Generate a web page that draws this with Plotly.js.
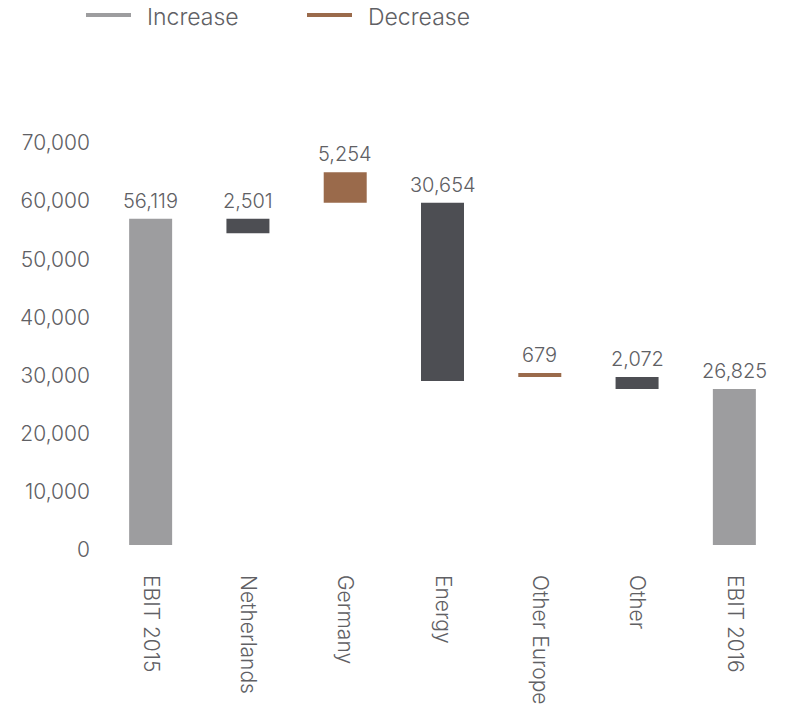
<!DOCTYPE html>
<html>
<head>
<meta charset="utf-8">
<script src="https://cdn.plot.ly/plotly-3.0.1.min.js"></script>
<style>html,body{margin:0;padding:0;background:#fff;}#chart{width:787px;height:707px;}</style>
</head>
<body>
<div id="chart"></div>
<script>
const categories = ['EBIT 2015', 'Netherlands', 'Germany', 'Energy', 'Other Europe', 'Other', 'EBIT 2016'];
const measures = ['absolute', 'relative', 'relative', 'relative', 'relative', 'relative', 'total'];
const values = [56119, -2501, 5254, -30654, 679, -2072, 26825];
const legendLabels = ['Increase', 'Decrease'];
const tickValues = [0, 10000, 20000, 30000, 40000, 50000, 60000, 70000];

const FONT = 'Inter, "Noto Sans", sans-serif';
const WEIGHT = 300;
const TXT = '#606064';
const COL_TOTAL = '#9d9d9f';
const COL_INC = '#9a6a4b';
const COL_DEC = '#4d4e53';

// plot area geometry (pixels)
const W = 787, H = 707;
const mL = 102, mR = 4, mT = 138, mB = 162;
const pw = W - mL - mR, ph = H - mT - mB;
const px2x = p => (p - mL) / pw;
const py2y = p => (H - mB - p) / ph;

// bars: each step is drawn from the running total after the step, spanning |change|
const bases = [], heights = [], colors = [];
const annotations = [];
let run = 0;
for (let i = 0; i < categories.length; i++) {
  let base, h, col;
  if (measures[i] === 'absolute') { run = values[i]; base = 0; h = run; col = COL_TOTAL; }
  else if (measures[i] === 'total') { base = 0; h = run; col = COL_TOTAL; }
  else {
    run += values[i];
    base = run; h = Math.abs(values[i]);
    col = values[i] < 0 ? COL_DEC : COL_INC;
  }
  bases.push(base); heights.push(h); colors.push(col);
  annotations.push({
    x: categories[i], y: base + h, xref: 'x', yref: 'y',
    text: Math.abs(values[i]).toLocaleString('en-US'),
    showarrow: false, yanchor: 'middle', yshift: 18,
    font: {family: FONT, size: 20, color: TXT, weight: WEIGHT}
  });
}

// legend (drawn manually to match line length)
const legendItems = [
  {lineStart: 86, lineEnd: 131, textX: 145, color: COL_TOTAL},
  {lineStart: 307, lineEnd: 352, textX: 366, color: COL_INC}
];
const shapes = [];
legendItems.forEach((it, k) => {
  shapes.push({type: 'line', xref: 'paper', yref: 'paper',
    x0: px2x(it.lineStart), x1: px2x(it.lineEnd), y0: py2y(15), y1: py2y(15),
    line: {color: it.color, width: 4}});
  annotations.push({xref: 'paper', yref: 'paper', x: px2x(it.textX), y: py2y(16.5),
    xanchor: 'left', yanchor: 'middle', showarrow: false, text: legendLabels[k],
    font: {family: FONT, size: 23, color: TXT, weight: WEIGHT}});
});

const trace = {
  type: 'bar',
  x: categories,
  y: heights,
  base: bases,
  marker: {color: colors, line: {width: 0}},
  hoverinfo: 'skip',
  showlegend: false
};

const layout = {
  width: W, height: H,
  margin: {l: mL, r: mR, t: mT, b: mB, pad: 0},
  paper_bgcolor: '#fff', plot_bgcolor: '#fff',
  font: {family: FONT, size: 20, color: TXT, weight: WEIGHT},
  bargap: 0.558,
  showlegend: false,
  xaxis: {
    type: 'category', tickangle: 90, showgrid: false, zeroline: false, showline: false,
    ticks: '', ticklabelstandoff: 29,
    tickfont: {family: FONT, size: 21, color: TXT, weight: WEIGHT}
  },
  yaxis: {
    range: [0, 70000], tickvals: tickValues, tickformat: ',',
    showgrid: false, zeroline: false, showline: false, ticks: '',
    ticklabelshift: 5, ticklabelstandoff: 11,
    tickfont: {family: FONT, size: 21, color: TXT, weight: WEIGHT}
  },
  shapes: shapes,
  annotations: annotations
};

Plotly.newPlot('chart', [trace], layout, {displayModeBar: false, staticPlot: true});
</script>
</body>
</html>
